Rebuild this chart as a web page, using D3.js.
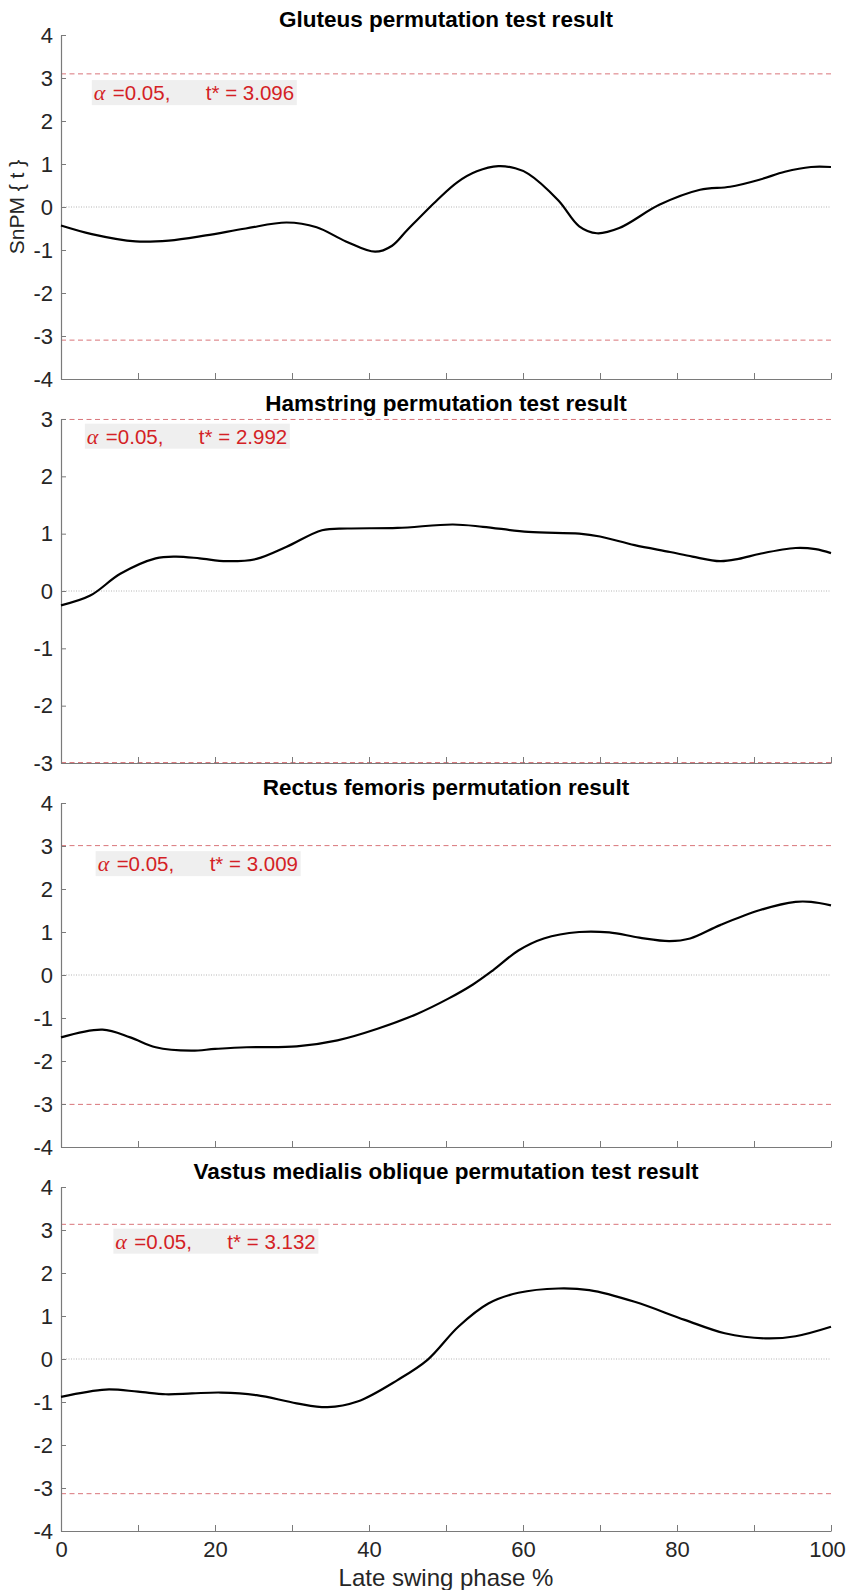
<!DOCTYPE html>
<html>
<head>
<meta charset="utf-8">
<script src="https://cdn.jsdelivr.net/npm/d3@7"></script>
<style>
  body { margin: 0; background: #fff; }
  svg { display: block; }
  text { font-family: "Liberation Sans", Arial, sans-serif; }
</style>
</head>
<body>
<svg id="chart" width="847" height="1590"></svg>
<script>
// SnPM{t} trajectories over the late swing phase (0–100 %)
const gluteusX = [0, 4, 9.7, 14, 18.8, 24, 29.3, 33.2, 37, 40.8, 43, 45, 48.9, 51.5, 54, 56.8, 59, 60.7, 64.6, 67.3, 69.6, 72.5, 77.7, 83, 86.9, 90.8, 94, 97.4, 100];
const gluteusT = [-0.43, -0.63, -0.80, -0.78, -0.66, -0.50, -0.36, -0.47, -0.80, -1.04, -0.90, -0.53, 0.17, 0.58, 0.83, 0.95, 0.90, 0.77, 0.15, -0.45, -0.61, -0.49, 0.05, 0.40, 0.47, 0.64, 0.82, 0.93, 0.93];

const hamstringX = [0, 3.8, 7.7, 12.3, 14.9, 18, 21.5, 25.4, 29.3, 33.9, 37.2, 43.7, 50.9, 54.8, 60.7, 67.3, 70, 74.5, 79.1, 82, 85.6, 88, 90.8, 95.4, 98, 100];
const hamstringT = [-0.25, -0.08, 0.30, 0.57, 0.60, 0.57, 0.52, 0.56, 0.77, 1.06, 1.09, 1.10, 1.16, 1.12, 1.03, 1.00, 0.95, 0.80, 0.68, 0.60, 0.52, 0.56, 0.65, 0.75, 0.73, 0.66];

const rectusX = [0, 5.4, 9, 12.3, 16.9, 20, 24.1, 30.6, 35.9, 41.1, 46.3, 50.3, 53.5, 56.1, 59.4, 62.7, 67.3, 71.2, 75.1, 79, 81.7, 85.6, 90.8, 95.4, 97.4, 100];
const rectusT = [-1.45, -1.27, -1.45, -1.68, -1.76, -1.72, -1.68, -1.66, -1.52, -1.25, -0.90, -0.55, -0.22, 0.11, 0.57, 0.85, 1.00, 0.99, 0.87, 0.79, 0.85, 1.16, 1.51, 1.70, 1.70, 1.62];

const vastusX = [0, 5.8, 10, 13.6, 17, 20.8, 25.4, 30.6, 34.6, 38.5, 43.7, 47.6, 51.6, 55.5, 59.4, 64.6, 68.6, 74.5, 81, 86.2, 91.5, 95.4, 100];
const vastusT = [-0.88, -0.71, -0.76, -0.82, -0.80, -0.78, -0.84, -1.03, -1.12, -0.99, -0.49, -0.02, 0.75, 1.29, 1.54, 1.64, 1.60, 1.33, 0.91, 0.60, 0.48, 0.53, 0.75];

const titles = [
  "Gluteus permutation test result",
  "Hamstring permutation test result",
  "Rectus femoris permutation result",
  "Vastus medialis oblique permutation test result"
];
const alphaLevel = "0.05";
const criticalT = [3.096, 2.992, 3.009, 3.132];
const yLimits = [[-4, 4], [-3, 3], [-4, 4], [-4, 4]];
const xTickValues = [0, 10, 20, 30, 40, 50, 60, 70, 80, 90, 100];
const xTickLabels = [0, 20, 40, 60, 80, 100];

const seriesX = [gluteusX, hamstringX, rectusX, vastusX];
const seriesT = [gluteusT, hamstringT, rectusT, vastusT];

// layout
const left = 61, right = 831;
const panelTop = [35, 419, 803, 1187];
const panelHeight = 344;
// annotation anchor: [x in %, y in t units]
const notePos = [[4.0, 2.66], [3.1, 2.70], [4.5, 2.59], [6.8, 2.74]];

const axisColor = "#7a7a7a";
const labelColor = "#262626";
const redText = "#d41f26";
const threshColor = "#d9757a";

const svg = d3.select("#chart");
const x = d3.scaleLinear().domain([0, 100]).range([left, right]);

titles.forEach((title, i) => {
  const top = panelTop[i], bottom = top + panelHeight;
  const y = d3.scaleLinear().domain(yLimits[i]).range([bottom, top]);
  const g = svg.append("g");

  // zero reference (dotted)
  g.append("line")
    .attr("x1", x(0)).attr("x2", x(100))
    .attr("y1", y(0)).attr("y2", y(0))
    .attr("stroke", "#b5b5b5").attr("stroke-width", 1)
    .attr("stroke-dasharray", "1,1.5");

  // critical thresholds (dashed)
  [criticalT[i], -criticalT[i]].forEach(v => {
    g.append("line")
      .attr("x1", x(0)).attr("x2", x(100))
      .attr("y1", y(v)).attr("y2", y(v))
      .attr("stroke", threshColor).attr("stroke-width", 1)
      .attr("stroke-dasharray", "5,3.5");
  });

  // y axis
  const yAxis = d3.axisLeft(y)
    .tickValues(d3.range(yLimits[i][0], yLimits[i][1] + 1))
    .tickFormat(d => String(d))
    .tickSizeInner(-5).tickSizeOuter(0).tickPadding(8);
  const ya = g.append("g").attr("transform", `translate(${left},0)`).call(yAxis);

  // x axis
  const xAxis = d3.axisBottom(x)
    .tickValues(xTickValues)
    .tickFormat(d => (i === 3 && xTickLabels.includes(d)) ? String(d) : "")
    .tickSizeInner(-6).tickSizeOuter(0).tickPadding(10);
  const xa = g.append("g").attr("transform", `translate(0,${bottom})`).call(xAxis);

  [ya, xa].forEach(a => {
    a.select(".domain").attr("stroke", axisColor).attr("stroke-width", 1.2);
    a.selectAll(".tick line").attr("stroke", axisColor).attr("stroke-width", 1);
    a.selectAll(".tick text")
      .attr("fill", labelColor)
      .style("font-family", '"Liberation Sans", Arial, sans-serif')
      .style("font-size", "22px");
  });
  // keep the last x label inside the page edge
  xa.selectAll(".tick text").filter(d => d === 100).attr("dx", "-4");

  // trajectory
  const pts = seriesX[i].map((xv, k) => [xv, seriesT[i][k]]);
  g.append("path")
    .datum(pts)
    .attr("fill", "none")
    .attr("stroke", "#000")
    .attr("stroke-width", 2.2)
    .attr("stroke-linejoin", "round")
    .attr("d", d3.line().x(d => x(d[0])).y(d => y(d[1])).curve(d3.curveCatmullRom.alpha(0.5)));

  // title
  g.append("text")
    .attr("x", (left + right) / 2).attr("y", top - 8)
    .attr("text-anchor", "middle")
    .attr("fill", "#000")
    .style("font-size", "22.5px").style("font-weight", "bold")
    .text(title);

  // alpha / critical threshold annotation
  const bx = x(notePos[i][0]), by = y(notePos[i][1]);
  const note = g.append("g").attr("transform", `translate(${bx},${by})`);
  note.append("rect")
    .attr("x", 0).attr("y", -12.5).attr("width", 205).attr("height", 25)
    .attr("fill", "#efefef");
  const t = note.append("text").attr("y", 7.5).attr("fill", redText).style("font-size", "20.5px");
  t.append("tspan").attr("x", 2)
    .style("font-family", '"Liberation Serif", "Times New Roman", serif')
    .style("font-style", "italic")
    .style("font-size", "22px")
    .text("α");
  t.append("tspan").attr("x", 21).text(`=${alphaLevel},`);
  t.append("tspan").attr("x", 114).text(`t* = ${criticalT[i].toFixed(3)}`);
});

// axis labels
svg.append("text")
  .attr("transform", `translate(24,${panelTop[0] + panelHeight / 2}) rotate(-90)`)
  .attr("text-anchor", "middle")
  .attr("fill", labelColor)
  .style("font-size", "21px")
  .text("SnPM { t }");

svg.append("text")
  .attr("x", (left + right) / 2).attr("y", 1586)
  .attr("text-anchor", "middle")
  .attr("fill", labelColor)
  .style("font-size", "24px")
  .text("Late swing phase %");
</script>
</body>
</html>
